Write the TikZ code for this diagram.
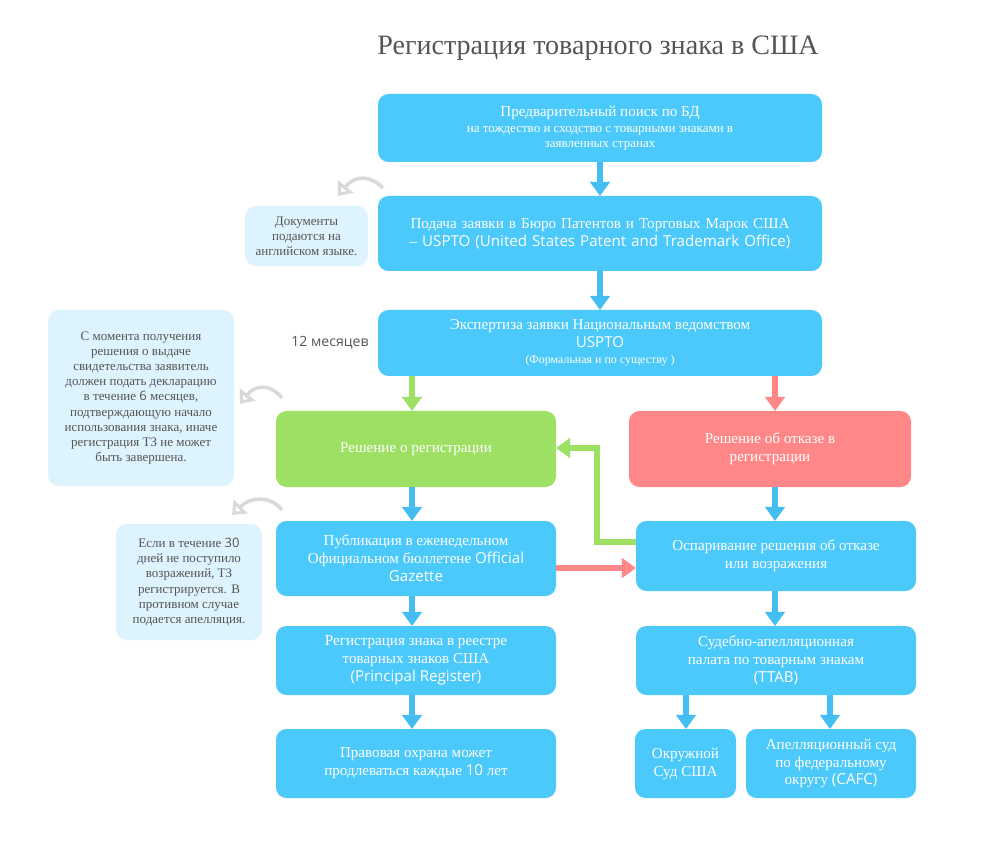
\documentclass[tikz,border=0pt]{standalone}
\usepackage{fontspec}
\setmainfont{Liberation Serif}
\newfontfamily\sns{Open Sans}
\usetikzlibrary{arrows.meta}
\definecolor{bl}{HTML}{4CC9FB}
\definecolor{nt}{HTML}{DDF3FD}
\definecolor{gr}{HTML}{9DE063}
\definecolor{rd}{HTML}{FF8787}
\definecolor{ar}{HTML}{44BEF2}
\definecolor{tt}{HTML}{555555}
\begin{document}
\begin{tikzpicture}[x=0.02cm,y=-0.02cm,
 box/.style={rounded corners=6pt,fill=bl,text=white,align=center,font=\fontsize{8.6}{10.2}\selectfont},
 note/.style={rounded corners=6pt,fill=nt,text=tt,align=center,font=\fontsize{7.4}{8.6}\selectfont},
 ba/.style={draw=ar,line width=3pt,-{Triangle[length=8pt,width=11pt]}},
 ga/.style={draw=gr,line width=3pt,-{Triangle[length=8pt,width=11pt]}},
 ra/.style={draw=rd,line width=3pt,-{Triangle[length=8pt,width=11pt]}},
 ca/.style={draw=gray!30,line width=2pt,-{Triangle[open,length=7pt,width=11pt]}}]
\useasboundingbox (0,0) rectangle (1000,864);
\node (title) [text=tt,font=\fontsize{16}{18}\selectfont] at (598,48) {Регистрация товарного знака в США};
\path[box] (378,94) rectangle (822,162) node (b1) [midway] {Предварительный поиск по БД\\[-1pt]{\fontsize{7.4}{10}\selectfont на тождество и сходство с товарными знаками в}\\[-2pt]{\fontsize{7.4}{10}\selectfont заявленных странах}};
\path[box] (378,196) rectangle (822,271) node (b2) [midway,text width=8.3cm] {Подача заявки в Бюро Патентов и Торговых Марок США – {\sns USPTO (United States Patent and Trademark Office)}};
\path[box] (378,310) rectangle (822,376) node (b3) [midway] {Экспертиза заявки Национальным ведомством\\{\sns USPTO}\\[-1pt]{\fontsize{6.8}{8}\selectfont (Формальная и по существу )}};
\path[box,fill=gr] (276,411) rectangle (556,487) node (g) [midway] {Решение о регистрации};
\path[box,fill=rd] (629,411) rectangle (911,487) node (r) [midway] {Решение об отказе в\\регистрации};
\path[box] (276,521) rectangle (556,596) node (p) [midway] {Публикация в еженедельном\\Официальном бюллетене {\sns Official}\\{\sns Gazette}};
\path[box] (636,521) rectangle (916,591) node (o) [midway] {Оспаривание решения об отказе\\или возражения};
\path[box] (276,626) rectangle (556,695) node (rg) [midway] {Регистрация знака в реестре\\товарных знаков США\\{\sns (Principal Register)}};
\path[box] (636,626) rectangle (916,695) node (t) [midway] {Судебно-апелляционная\\палата по товарным знакам\\{\sns (TTAB)}};
\path[box] (276,729) rectangle (556,798) node (pr) [midway] {Правовая охрана может\\продлеваться каждые {\sns 10} лет};
\path[box] (635,729) rectangle (736,798) node (ok) [midway] {Окружной\\Суд США};
\path[box] (746,729) rectangle (916,798) node (ap) [midway] {Апелляционный суд\\по федеральному\\округу {\sns (CAFC)}};
\path[note] (245,206) rectangle (368,266) node (n1) [midway] {Документы\\подаются на\\английском языке.};
\path[note] (48,310) rectangle (234,486) node (n2) [midway] {С момента получения\\решения о выдаче\\свидетельства заявитель\\должен подать декларацию\\в течение {\sns 6} месяцев,\\подтверждающую начало\\использования знака, иначе\\регистрация ТЗ не может\\быть завершена.};
\path[note] (116,524) rectangle (262,640) node (n3) [midway] {Если в течение {\sns 30}\\дней не поступило\\возражений, ТЗ\\регистрируется. В\\противном случае\\подается апелляция.};
\node (m12) [text=tt,font=\sns\fontsize{8}{10}\selectfont] at (330,343) {12 месяцев};
\draw[ba] (600,162) -- (600,196);
\draw[ba] (600,271) -- (600,310);
\draw[ga] (412,376) -- (412,411);
\draw[ra] (775,376) -- (775,411);
\draw[ba] (412,487) -- (412,521);
\draw[ba] (775,487) -- (775,521);
\draw[ba] (412,596) -- (412,626);
\draw[ba] (412,695) -- (412,729);
\draw[ba] (775,591) -- (775,626);
\draw[ba] (686,695) -- (686,729);
\draw[ba] (830,695) -- (830,729);
\draw[ra] (556,568) -- (636,568);
\draw[ga] (636,542) -- (597,542) -- (597,448) -- (556,448);
\draw[ca] (383,188) .. controls (370,175) and (355,175) .. (338,196);
\draw[ca] (282,398) .. controls (270,383) and (255,385) .. (240,404);
\draw[ca] (282,510) .. controls (270,495) and (250,497) .. (232,515);
\end{tikzpicture}
\end{document}
